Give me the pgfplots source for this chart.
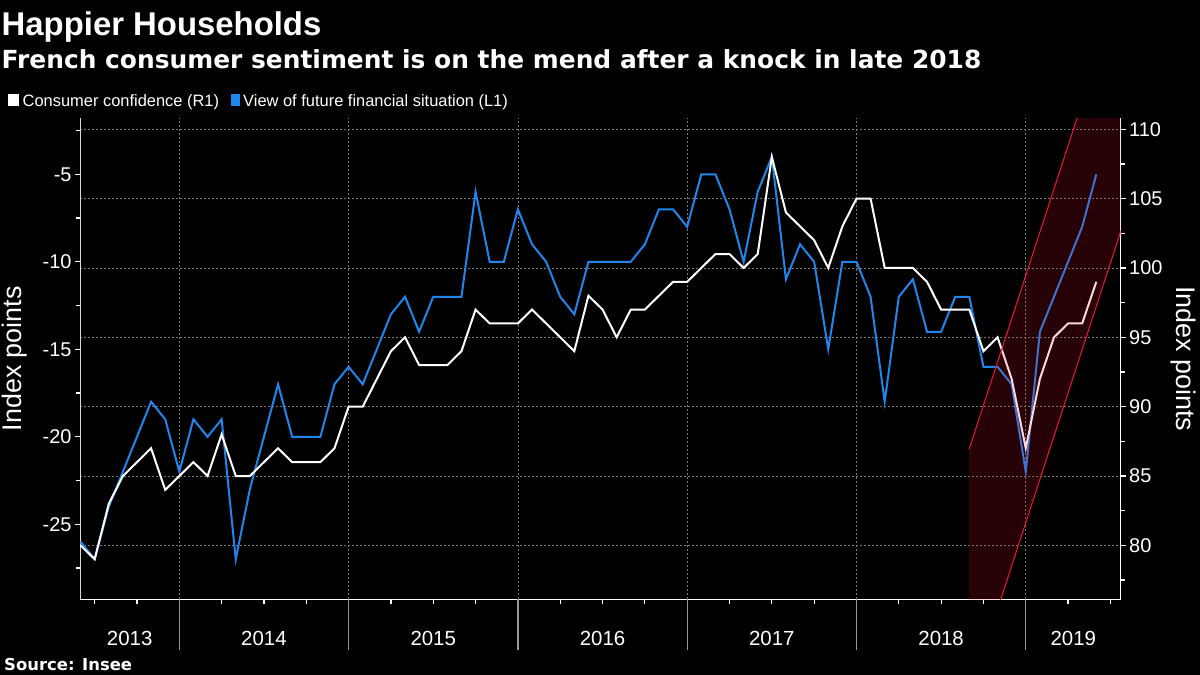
\documentclass[border=0pt]{standalone}
\usepackage{pgfplots}
\pgfplotsset{compat=1.18}
\usepackage{fontspec}
\setmainfont{Liberation Sans}
\newfontfamily\subfont{DejaVu Sans}
\definecolor{bblue}{RGB}{30,134,236}
\definecolor{gridgray}{RGB}{120,120,120}
\definecolor{sepgray}{RGB}{150,150,150}
\definecolor{bandred}{RGB}{235,20,50}

\pgfplotstableread{
m v
5 -26
6 -27
7 -24
8 -22
9 -20
10 -18
11 -19
12 -22
13 -19
14 -20
15 -19
16 -27
17 -23
18 -20
19 -17
20 -20
21 -20
22 -20
23 -17
24 -16
25 -17
26 -15
27 -13
28 -12
29 -14
30 -12
31 -12
32 -12
33 -6
34 -10
35 -10
36 -7
37 -9
38 -10
39 -12
40 -13
41 -10
42 -10
43 -10
44 -10
45 -9
46 -7
47 -7
48 -8
49 -5
50 -5
51 -7
52 -10
53 -6
54 -4
55 -11
56 -9
57 -10
58 -15
59 -10
60 -10
61 -12
62 -18
63 -12
64 -11
65 -14
66 -14
67 -12
68 -12
69 -16
70 -16
71 -17
72 -22
73 -14
74 -12
75 -10
76 -8
77 -5
}\futuretable

\pgfplotstableread{
m v
5 80
6 79
7 83
8 85
9 86
10 87
11 84
12 85
13 86
14 85
15 88
16 85
17 85
18 86
19 87
20 86
21 86
22 86
23 87
24 90
25 90
26 92
27 94
28 95
29 93
30 93
31 93
32 94
33 97
34 96
35 96
36 96
37 97
38 96
39 95
40 94
41 98
42 97
43 95
44 97
45 97
46 98
47 99
48 99
49 100
50 101
51 101
52 100
53 101
54 108
55 104
56 103
57 102
58 100
59 103
60 105
61 105
62 100
63 100
64 100
65 99
66 97
67 97
68 97
69 94
70 95
71 92
72 87
73 92
74 95
75 96
76 96
77 99
}\conftable

\pgfplotsset{
  base/.style={
    at={(80bp,-599.3bp)}, anchor=south west,
    scale only axis, width=1040.7bp, height=481bp,
    xmin=4.96, xmax=78.73,
    tick align=outside,
    major tick length=5bp, minor tick length=4bp,
    tick style={white, line width=1.2bp},
    grid style={gridgray, dash pattern=on 2bp off 2bp, line width=0.7bp},
    yticklabel style={text=white, font=\fontsize{20}{22}\selectfont},
  },
}

\begin{document}
\begin{tikzpicture}[x=1bp,y=1bp]
\fill[black] (0,0) rectangle (1200,-675);

% titles
\node[anchor=base west, inner sep=0, text=white, font=\fontsize{33}{36}\selectfont\bfseries] at (1.5,-36) {Happier Households};
\node[anchor=base west, inner sep=0, text=white, font=\subfont\fontsize{25}{28}\selectfont\bfseries] at (1.5,-68.3) {French consumer sentiment is on the mend after a knock in late 2018};

% legend
\fill[white] (8.3,-94.3) rectangle (19,-106);
\node[anchor=base west, inner sep=0, text=white, font=\fontsize{16.5}{18}\selectfont] at (22.5,-106.5) {Consumer confidence (R1)};
\fill[bblue] (230.5,-94.3) rectangle (240,-106);
\node[anchor=base west, inner sep=0, text=white, font=\fontsize{16.5}{18}\selectfont] at (243,-106.5) {View of future financial situation (L1)};

% right axis (grid, ticks)
\begin{axis}[base,
  ymin=76.11, ymax=110.79,
  axis x line=none, axis y line*=right,
  axis line style={white, line width=1.4bp},
  ytick={80,85,90,95,100,105,110},
  yticklabels={80,85,90,95,100,105,110},
  minor ytick={77.5,82.5,87.5,92.5,97.5,102.5,107.5},
  ymajorgrids,
]
\addplot[draw=none] coordinates {(5,80)};
\end{axis}

% left axis with blue line
\begin{axis}[base,
  ymin=-29.29, ymax=-1.8,
  axis x line*=bottom, axis y line*=left,
  x axis line style={white, line width=1.4bp},
  y axis line style={white!85!black, line width=1bp},
  ytick={-25,-20,-15,-10,-5},
  yticklabels={-25,-20,-15,-10,-5},
  minor ytick={-27.5,-22.5,-17.5,-12.5,-7.5,-2.5},
  xtick={6,9,15,18,21,27,30,33,39,42,45,51,54,57,63,66,69,75,78},
  xticklabels={},
  extra x ticks={12,24,36,48,60,72},
  extra x tick labels={},
  extra x tick style={grid=major, major tick length=51bp, tick style={sepgray, line width=1.2bp}},
  clip mode=individual,
]
\addplot[bblue, line width=2bp] table[x=m, y=v] {\futuretable};
\foreach \xx/\yy in {8.48/2013, 18/2014, 30/2015, 42/2016, 54/2017, 66/2018, 75.37/2019}{
  \edef\tmp{\noexpand\node[anchor=base, inner sep=0, text=white, font=\noexpand\fontsize{20.5}{22}\noexpand\selectfont] at (axis cs:\xx,-29.29) [yshift=-45.7bp] {\yy};}
  \tmp
}
\end{axis}

% white line and band on right scale
\begin{axis}[base, ymin=76.11, ymax=110.79, hide axis]
\addplot[white, line width=2bp] table[x=m, y=v] {\conftable};
\addplot[draw=none, fill=bandred, fill opacity=0.17] coordinates {(67.98,86.92) (80,124.42) (80,106.59) (67.98,69.09) (67.98,86.92)};
\addplot[bandred, line width=1bp] coordinates {(67.98,86.92) (80,124.42)};
\addplot[bandred, line width=1bp] coordinates {(67.98,69.09) (80,106.59)};
\end{axis}

% axis titles
\node[rotate=90, inner sep=0, text=white, font=\fontsize{27}{30}\selectfont] at (15,-358.8) {Index points};
\node[rotate=-90, inner sep=0, text=white, font=\fontsize{27}{30}\selectfont] at (1183,-358.8) {Index points};

% source
\node[anchor=base west, inner sep=0, text=white, font=\subfont\fontsize{16.5}{18}\selectfont\bfseries] at (4,-670) {Source: Insee};

\pgfresetboundingbox
\path[use as bounding box] (0,0) rectangle (1200,-675);
\end{tikzpicture}
\end{document}
